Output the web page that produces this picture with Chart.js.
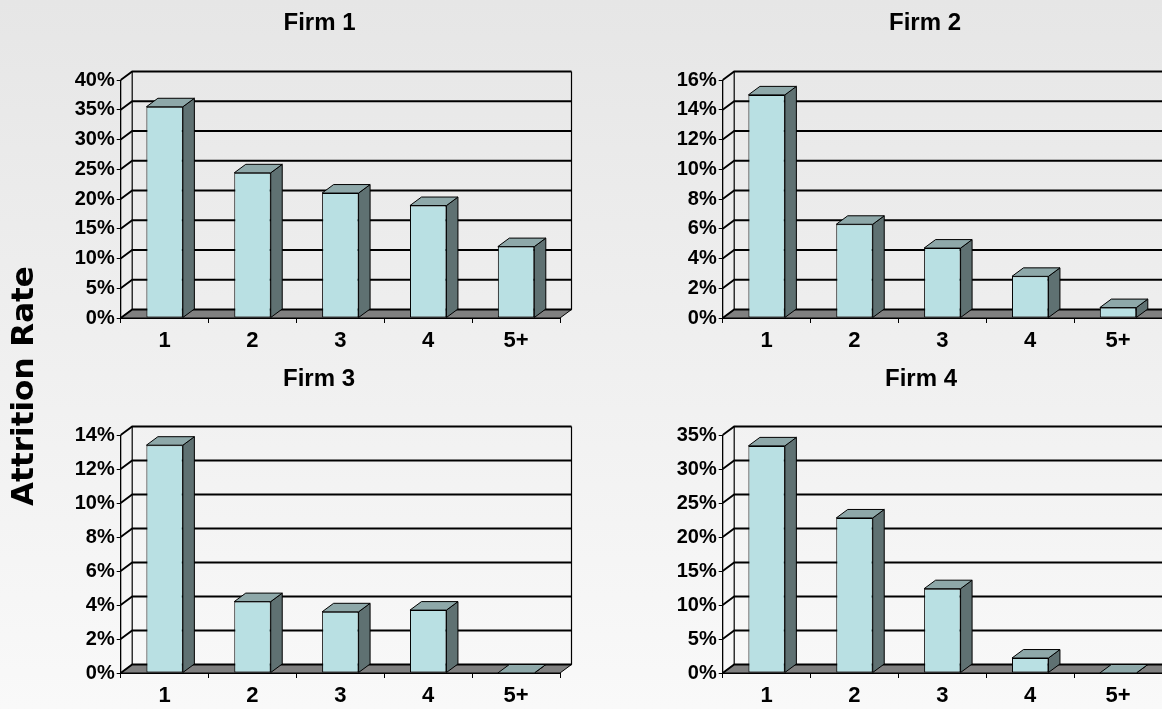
<!DOCTYPE html>
<html>
<head>
<meta charset="utf-8">
<script src="https://cdn.jsdelivr.net/npm/chart.js@4"></script>
<style>
  html, body { margin: 0; padding: 0; }
  body {
    width: 1162px; height: 709px; overflow: hidden; position: relative;
    background: linear-gradient(#e6e6e6, #f9f9f9);
  }
  canvas { position: absolute; }
</style>
</head>
<body>
<canvas id="yTitle" width="60" height="400" style="left:0;top:190px"></canvas>
<canvas id="firm1" width="540" height="360" style="left:60px;top:0"></canvas>
<canvas id="firm2" width="502" height="360" style="left:660px;top:0"></canvas>
<canvas id="firm3" width="540" height="349" style="left:60px;top:360px"></canvas>
<canvas id="firm4" width="502" height="349" style="left:660px;top:360px"></canvas>
<script>
// years of service buckets
var categories = ['1', '2', '3', '4', '5+'];

// attrition rate in percent, per firm
var firm1Rates = [35.5, 24.4, 21.0, 18.9, 12.0];
var firm2Rates = [15.0, 6.3, 4.7, 2.8, 0.7];
var firm3Rates = [13.4, 4.2, 3.6, 3.7, 0];
var firm4Rates = [33.4, 22.8, 12.4, 2.2, 0];

// y axis ranges
var axisMax = [40, 16, 14, 35];
var axisStep = [5, 2, 2, 5];

var FONT = 'Arial, "Liberation Sans", sans-serif';
var DX = 11.5, DY = -8.5;   // depth offset of the 3d box

function poly(ctx, pts, fill) {
    ctx.beginPath();
    ctx.moveTo(pts[0][0], pts[0][1]);
    for (var i = 1; i < pts.length; i++) ctx.lineTo(pts[i][0], pts[i][1]);
    ctx.closePath();
    if (fill) { ctx.fillStyle = fill; ctx.fill(); }
    ctx.stroke();
}

// floor, walls and gridlines behind the bars
var box3d = {
    id: 'box3d',
    beforeDatasetsDraw: function(chart) {
        var ctx = chart.ctx, a = chart.chartArea, y = chart.scales.y;
        ctx.save();
        ctx.strokeStyle = '#000';
        ctx.lineWidth = 1;
        poly(ctx, [[a.left, a.bottom], [a.right, a.bottom], [a.right + DX, a.bottom + DY], [a.left + DX, a.bottom + DY]], '#808080');
        ctx.lineWidth = 1.8;
        y.ticks.forEach(function(t) {
            var py = y.getPixelForValue(t.value);
            ctx.beginPath();
            ctx.moveTo(a.left, py);
            ctx.lineTo(a.left + DX, py + DY);
            ctx.lineTo(a.right + DX, py + DY);
            ctx.stroke();
        });
        ctx.lineWidth = 1.2;
        ctx.beginPath();
        ctx.moveTo(a.left + DX, a.top + DY);
        ctx.lineTo(a.left + DX, a.bottom + DY);
        ctx.moveTo(a.right + DX, a.top + DY);
        ctx.lineTo(a.right + DX, a.bottom + DY);
        ctx.moveTo(a.left, a.top);
        ctx.lineTo(a.left, a.bottom);
        ctx.stroke();
        ctx.restore();
    },
    afterDatasetsDraw: function(chart) {
        var ctx = chart.ctx;
        ctx.save();
        ctx.strokeStyle = '#000';
        ctx.lineWidth = 1;
        chart.getDatasetMeta(0).data.forEach(function(bar) {
            var l = bar.x - bar.width / 2, r = bar.x + bar.width / 2;
            poly(ctx, [[r, bar.y], [r + DX, bar.y + DY], [r + DX, bar.base + DY], [r, bar.base]], '#5f7172');
            poly(ctx, [[l, bar.y], [r, bar.y], [r + DX, bar.y + DY], [l + DX, bar.y + DY]], '#8ea8a9');
        });
        ctx.restore();
    },
    afterDraw: function(chart) {
        var o = chart.options.plugins.box3d;
        var ctx = chart.ctx;
        ctx.save();
        ctx.fillStyle = '#000';
        ctx.font = 'bold 24px ' + FONT;
        ctx.textAlign = 'center';
        ctx.textBaseline = 'alphabetic';
        ctx.fillText(o.title, o.titleX, o.titleY);
        ctx.restore();
    }
};

function makeChart(id, title, values, max, step, geo) {
    return new Chart(document.getElementById(id), {
        type: 'bar',
        data: {
            labels: categories,
            datasets: [{
                data: values,
                backgroundColor: '#b9e0e3',
                borderColor: '#000',
                borderWidth: 1,
                borderSkipped: false,
                categoryPercentage: 1,
                barPercentage: 0.415
            }]
        },
        options: {
            responsive: false,
            animation: false,
            devicePixelRatio: 1,
            layout: { padding: { left: 0, right: geo.padRight, top: geo.padTop, bottom: 0 } },
            plugins: {
                legend: { display: false },
                tooltip: { enabled: false },
                box3d: { title: title, titleX: geo.titleX, titleY: geo.titleY }
            },
            scales: {
                x: {
                    offset: true,
                    grid: { offset: true, drawOnChartArea: false, drawTicks: true, tickLength: 5, color: '#000' },
                    border: { display: true, color: '#000' },
                    ticks: { color: '#000', padding: 5, font: { family: FONT, size: 22, weight: 'bold' } },
                    afterFit: function(s) { s.height = geo.xHeight; }
                },
                y: {
                    min: 0,
                    max: max,
                    grid: { drawOnChartArea: false, drawTicks: true, tickLength: 4, color: '#000' },
                    border: { display: true, color: '#000' },
                    ticks: {
                        stepSize: step,
                        color: '#000',
                        padding: 2,
                        font: { family: FONT, size: 20, weight: 'bold' },
                        callback: function(v) { return v + '%'; }
                    },
                    afterFit: function(s) { s.width = geo.yWidth; }
                }
            }
        },
        plugins: [box3d]
    });
}

makeChart('firm1', 'Firm 1', firm1Rates, axisMax[0], axisStep[0],
    { padRight: 40, padTop: 80, xHeight: 42, yWidth: 60.7, titleX: 259.5, titleY: 29.5 });
makeChart('firm2', 'Firm 2', firm2Rates, axisMax[1], axisStep[1],
    { padRight: 0, padTop: 80, xHeight: 42, yWidth: 62.7, titleX: 265, titleY: 29.5 });
makeChart('firm3', 'Firm 3', firm3Rates, axisMax[2], axisStep[2],
    { padRight: 40, padTop: 75, xHeight: 36, yWidth: 60.7, titleX: 259, titleY: 25.5 });
makeChart('firm4', 'Firm 4', firm4Rates, axisMax[3], axisStep[3],
    { padRight: 0, padTop: 75, xHeight: 36, yWidth: 62.7, titleX: 261, titleY: 25.5 });

// shared y axis title
var tctx = document.getElementById('yTitle').getContext('2d');
tctx.save();
tctx.translate(33, 196);
tctx.rotate(-Math.PI / 2);
tctx.fillStyle = '#000';
tctx.font = 'bold 31px "DejaVu Sans", Verdana, sans-serif';
tctx.textAlign = 'center';
tctx.textBaseline = 'alphabetic';
tctx.fillText('Attrition Rate', 0, 0);
tctx.restore();
</script>
</body>
</html>
